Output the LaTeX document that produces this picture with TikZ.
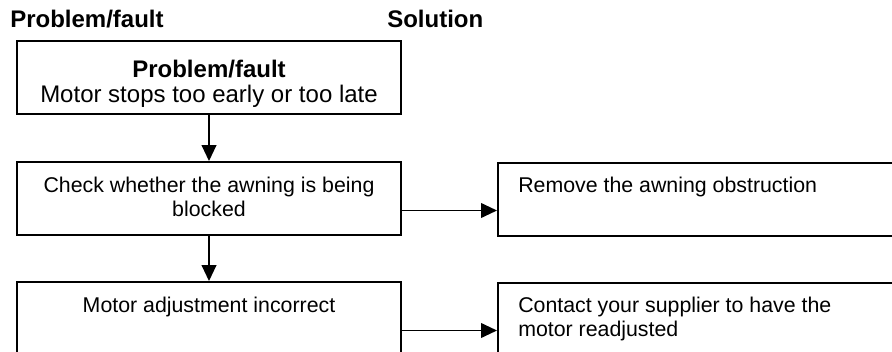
\documentclass[tikz,border=0pt]{standalone}
\usepackage{fontspec}
\setmainfont{Liberation Sans}
\usetikzlibrary{arrows.meta, positioning}

\tikzset{
  flowbox/.style={draw, line width=1.4pt, minimum width=288pt, minimum height=54.75pt, inner sep=0pt},
  solbox/.style={draw, line width=1.4pt, minimum width=302pt, minimum height=54.75pt, inner sep=0pt, anchor=north west},
  flowarrow/.style={line width=1.4pt, -{Triangle[length=12pt, width=11pt]}},
  boxtext/.style={font=\fontsize{16}{18}\selectfont, inner sep=0pt, anchor=base},
  headtext/.style={font=\fontsize{18}{21}\selectfont\bfseries, inner sep=0pt, anchor=base west}
}

\begin{document}
\begin{tikzpicture}[x=0.75pt, y=-0.75pt]
            \useasboundingbox (0,0) rectangle (892,352);
            % column heads
            \node[headtext] (hdprob) at (10,28) {Problem/fault};
            \node[headtext] (hdsol) at (387,28) {Solution};
            % left column
            \node[flowbox] (prob) at (209,77.5) {};
            \node[flowbox] (chk) at (209,198.5) {};
            \node[flowbox] (adj) at (209,318.5) {};
            \node[boxtext, font=\fontsize{18}{18.75}\selectfont, align=center] (probtxt) at (209,103) {\textbf{Problem/fault}\\Motor stops too early or too late};
            \node[boxtext, align=center] (chktxt) at (209,217) {Check whether the awning is being\\blocked};
            \node[boxtext] (adjtxt) at (209,313) {Motor adjustment incorrect};
            % right column
            \node[solbox] (rem) at (497,162) {};
            \node[solbox] (supp) at (497,282) {};
            \node[boxtext, anchor=base west] (remtxt) at (518,193) {Remove the awning obstruction};
            \node[boxtext, anchor=base west, align=left] (supptxt) at (518,337) {Contact your supplier to have the\\motor readjusted};
            % connectors
            \draw[flowarrow] (prob.south) -- (chk.north);
            \draw[flowarrow] (chk.south) -- (adj.north);
            \draw[flowarrow] ([yshift=-9pt]chk.east) -- ([yshift=-9pt]chk.east -| rem.west);
            \draw[flowarrow] ([yshift=-9pt]adj.east) -- ([yshift=-9pt]adj.east -| supp.west);
        \end{tikzpicture}
\end{document}
